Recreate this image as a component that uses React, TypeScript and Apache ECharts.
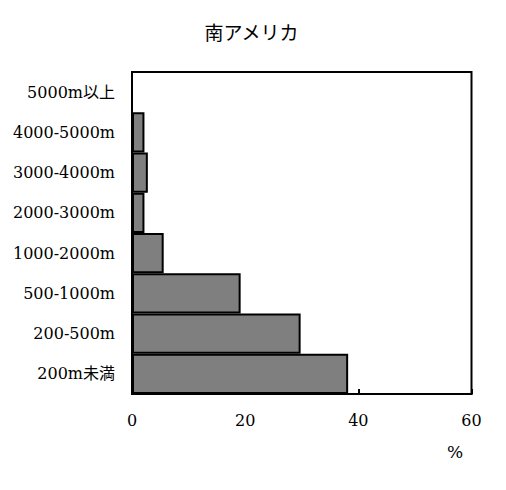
import React, { useEffect, useRef } from "react";
import * as echarts from "echarts";

const categories = ["200m未満", "200-500m", "500-1000m", "1000-2000m", "2000-3000m", "3000-4000m", "4000-5000m", "5000m以上"];
const values = [38.2, 29.8, 19.2, 5.6, 2.2, 2.8, 2.2, 0];
const xTicks = { min: 0, max: 60, interval: 20 };
const titleText = "南アメリカ";
const unitText = "%";

const FONT = "DejaVu Serif, Liberation Serif, Noto Sans CJK JP, serif";

export default function App() {
  const ref = useRef<HTMLDivElement>(null);
  useEffect(() => {
    if (!ref.current) return;
    const chart = echarts.init(ref.current, null, { renderer: "svg" });
    chart.setOption({
      animation: false,
      backgroundColor: "#ffffff",
      grid: {
        left: 132,
        top: 72,
        right: 34.5,
        bottom: 96,
        show: true,
        borderColor: "#000",
        borderWidth: 2,
        backgroundColor: "transparent",
      },
      xAxis: {
        type: "value",
        min: xTicks.min,
        max: xTicks.max,
        interval: xTicks.interval,
        axisLine: { show: true, lineStyle: { color: "#000", width: 2 } },
        axisTick: { show: true, inside: true, length: 5, lineStyle: { color: "#000", width: 2 } },
        splitLine: { show: false },
        axisLabel: { color: "#000", fontSize: 16, fontFamily: FONT, margin: 18 },
      },
      yAxis: {
        type: "category",
        data: categories,
        axisLine: { show: false },
        axisTick: { show: false },
        splitLine: { show: false },
        axisLabel: { color: "#000", fontSize: 16, fontFamily: FONT, margin: 17 },
      },
      series: [
        {
          type: "bar",
          data: values,
          barCategoryGap: "0%",
          itemStyle: { color: "#7f7f7f", borderColor: "#000", borderWidth: 2 },
          silent: true,
        },
      ],
      graphic: [
        {
          type: "text",
          x: 251.5,
          y: 31,
          style: {
            text: titleText,
            fill: "#000",
            font: "19px Noto Sans CJK JP, sans-serif",
            textAlign: "center",
            textVerticalAlign: "middle",
          },
        },
        {
          type: "text",
          x: 455,
          y: 452,
          style: {
            text: unitText,
            fill: "#000",
            font: "17px " + FONT,
            textAlign: "center",
            textVerticalAlign: "middle",
          },
        },
      ],
    });
    return () => chart.dispose();
  }, []);
  return (
    <div
      ref={ref}
      style={{ position: "fixed", left: 0, top: 0, width: 506, height: 490, background: "#fff" }}
    />
  );
}
